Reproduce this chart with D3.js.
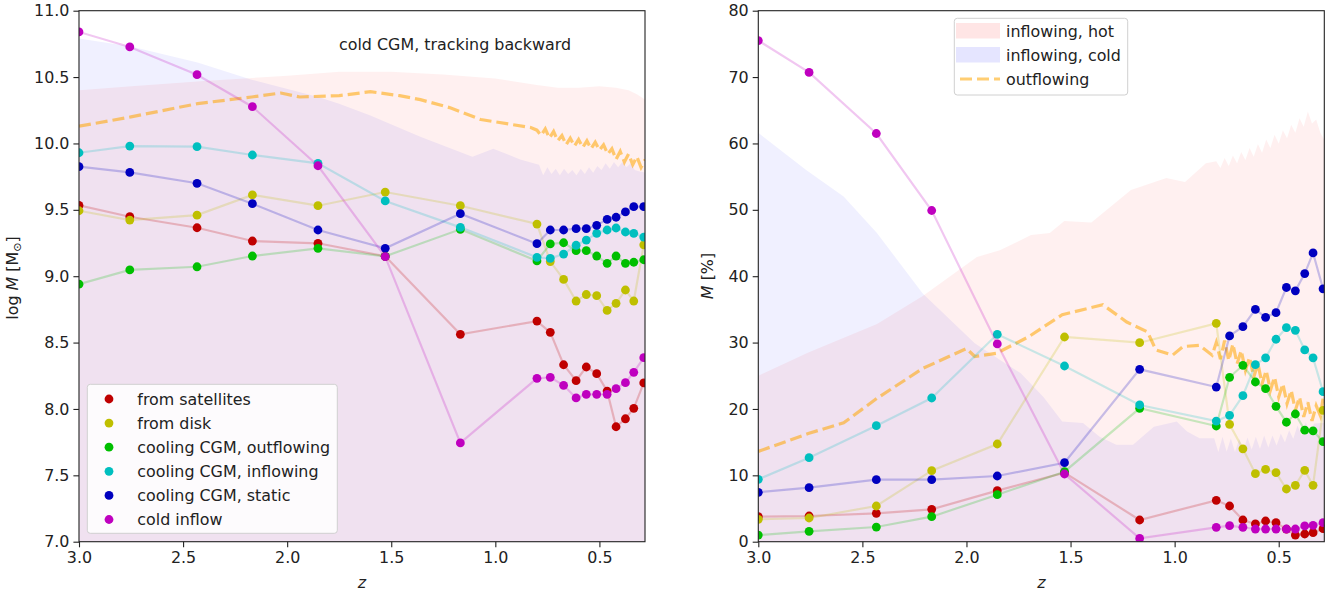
<!DOCTYPE html>
<html><head><meta charset="utf-8">
<script src="https://cdn.jsdelivr.net/npm/d3@7/dist/d3.min.js"></script>
<style>body{margin:0;background:#fff}</style>
</head><body>
<script>
// snapshot redshifts
const zSnap = [3.0, 2.756, 2.433, 2.167, 1.852, 1.529, 1.168, 0.800, 0.736, 0.672, 0.612, 0.563, 0.513, 0.463, 0.420, 0.375, 0.335, 0.287];

// left panel: log M
const satM    = [9.533, 9.448, 9.365, 9.265, 9.248, 9.15, 8.562, 8.662, 8.577, 8.333, 8.213, 8.316, 8.266, 8.135, 7.866, 7.926, 8.005, 8.196];
const diskM   = [9.493, 9.423, 9.46, 9.612, 9.531, 9.634, 9.531, 9.393, 9.11, 8.976, 8.813, 8.862, 8.853, 8.742, 8.796, 8.896, 8.813, 9.236];
const coolOutM = [8.94, 9.047, 9.071, 9.152, 9.21, 9.15, 9.353, 9.115, 9.243, 9.252, 9.192, 9.192, 9.152, 9.097, 9.152, 9.097, 9.105, 9.124];
const coolInM = [9.93, 9.98, 9.976, 9.913, 9.85, 9.567, 9.368, 9.142, 9.135, 9.167, 9.233, 9.272, 9.323, 9.348, 9.363, 9.333, 9.323, 9.295];
const coolStM = [9.825, 9.782, 9.70, 9.546, 9.348, 9.21, 9.471, 9.245, 9.348, 9.348, 9.358, 9.358, 9.383, 9.428, 9.444, 9.484, 9.524, 9.524];
const coldInM = [10.84, 10.727, 10.518, 10.277, 9.832, 9.147, 7.744, 8.231, 8.238, 8.178, 8.083, 8.11, 8.11, 8.11, 8.153, 8.198, 8.276, 8.386];

// right panel: percent
const satP    = [3.77, 3.87, 4.27, 4.88, 7.69, 10.4, 3.27, 6.23, 5.38, 3.27, 2.67, 3.12, 2.87, 1.9, 1.0, 1.16, 1.36, 1.96];
const diskP   = [3.37, 3.57, 5.38, 10.7, 14.72, 30.84, 29.98, 32.9, 17.69, 14.0, 10.25, 10.9, 10.4, 7.94, 8.5, 10.75, 8.5, 19.8];
const coolOutP = [1.0, 1.56, 2.21, 3.77, 7.08, 10.55, 20.1, 17.43, 24.77, 26.58, 24.06, 23.05, 20.4, 18.0, 19.24, 16.8, 16.7, 15.07];
const coolInP = [9.4, 12.66, 17.48, 21.65, 31.25, 26.47, 20.6, 18.18, 19.04, 22.0, 26.67, 27.7, 30.5, 32.25, 31.85, 28.9, 27.7, 22.6];
const coolStP = [7.44, 8.14, 9.34, 9.34, 9.9, 11.9, 25.97, 23.3, 31.0, 32.4, 35.0, 33.8, 34.5, 38.3, 37.8, 40.4, 43.5, 38.1];
const coldInP = [75.5, 70.7, 61.5, 49.9, 29.79, 10.2, 0.5, 2.17, 2.41, 2.17, 1.91, 1.91, 1.91, 1.91, 1.91, 2.37, 2.47, 2.87];

const seriesNames = ["from satellites", "from disk", "cooling CGM, outflowing", "cooling CGM, inflowing", "cooling CGM, static", "cold inflow"];
const seriesColors = ["#bf0000", "#bfbf00", "#00bf00", "#00bfbf", "#0000bf", "#bf00bf"];

// background bands [z, value]
const hotL = [[3.0,10.40],[2.75,10.43],[2.4,10.47],[2.0,10.51],[1.75,10.54],[1.5,10.54],[1.25,10.52],[1.0,10.49],[0.8,10.44],[0.7,10.42],[0.6,10.42],[0.5,10.43],[0.42,10.42],[0.36,10.40],[0.32,10.37],[0.28,10.33]];
const coldL = [[3.0,10.79],[2.75,10.73],[2.43,10.61],[2.17,10.48],[1.85,10.35],[1.75,10.30],[1.6,10.21],[1.36,10.05],[1.11,9.90],[1.01,9.96],[0.88,9.88],[0.79,9.84],[0.77,9.76],[0.75,9.82],[0.73,9.77],[0.71,9.81],[0.69,9.76],[0.67,9.81],[0.65,9.77],[0.63,9.80],[0.61,9.76],[0.59,9.81],[0.57,9.77],[0.55,9.82],[0.53,9.78],[0.51,9.83],[0.49,9.80],[0.47,9.85],[0.45,9.81],[0.43,9.86],[0.41,9.82],[0.39,9.86],[0.37,9.82],[0.35,9.85],[0.33,9.80],[0.31,9.79],[0.28,9.78]];
const outL = [[3.0,10.13],[2.75,10.2],[2.43,10.3],[2.17,10.35],[2.03,10.38],[1.94,10.35],[1.75,10.36],[1.6,10.39],[1.46,10.36],[1.36,10.33],[1.22,10.27],[1.07,10.18],[0.93,10.145],[0.83,10.12],[0.80,10.10],[0.78,10.06],[0.76,10.11],[0.74,10.04],[0.72,10.09],[0.70,10.02],[0.68,10.06],[0.66,9.99],[0.64,10.04],[0.62,9.98],[0.60,10.03],[0.58,9.97],[0.56,10.02],[0.54,9.96],[0.52,10.01],[0.50,9.95],[0.48,9.99],[0.46,9.92],[0.44,9.96],[0.42,9.88],[0.40,9.94],[0.38,9.86],[0.36,9.92],[0.34,9.84],[0.32,9.90],[0.30,9.82],[0.28,9.88]];

const hotR = [[3.0,25.0],[2.76,28.5],[2.43,32.8],[2.21,37.0],[1.95,42.9],[1.84,43.9],[1.69,46.2],[1.6,46.5],[1.53,48.3],[1.40,48.1],[1.21,53.0],[1.04,54.8],[0.95,54.2],[0.85,57.0],[0.80,57.3],[0.78,56.3],[0.76,57.8],[0.74,56.6],[0.72,58.2],[0.70,57.0],[0.68,58.7],[0.66,57.5],[0.64,59.3],[0.62,58.0],[0.60,59.9],[0.58,58.6],[0.56,60.6],[0.54,59.3],[0.52,61.3],[0.50,60.0],[0.48,62.0],[0.46,60.8],[0.44,62.8],[0.42,61.6],[0.40,63.8],[0.38,62.5],[0.36,64.8],[0.34,63.0],[0.32,63.6],[0.30,61.6],[0.28,60.5]];
const coldR = [[3.0,61.6],[2.77,56.0],[2.59,52.0],[2.43,46.5],[2.21,37.4],[1.96,29.9],[1.84,27.4],[1.74,25.4],[1.63,21.8],[1.54,18.1],[1.44,17.9],[1.36,15.8],[1.28,14.6],[1.20,14.6],[1.10,17.3],[0.99,18.1],[0.94,16.6],[0.88,15.6],[0.81,15.6],[0.79,13.5],[0.77,15.8],[0.75,13.6],[0.73,15.6],[0.71,13.5],[0.69,15.5],[0.67,13.8],[0.65,15.7],[0.63,13.9],[0.61,15.8],[0.59,14.0],[0.57,16.0],[0.55,14.2],[0.53,16.0],[0.51,14.5],[0.49,16.3],[0.47,15.0],[0.45,16.8],[0.43,15.5],[0.41,17.5],[0.39,16.0],[0.37,18.0],[0.35,16.5],[0.33,17.8],[0.30,17.9],[0.28,17.9]];
const outR = [[3.0,13.6],[2.76,16.3],[2.59,17.9],[2.43,21.6],[2.21,26.1],[2.0,29.1],[1.96,27.9],[1.855,28.4],[1.70,30.9],[1.54,34.2],[1.345,35.7],[1.23,33.1],[1.13,31.6],[1.09,28.9],[1.01,28.1],[0.96,29.4],[0.88,29.6],[0.82,28.1],[0.80,30.0],[0.78,27.5],[0.76,30.3],[0.74,27.3],[0.72,29.8],[0.70,26.8],[0.68,28.8],[0.66,25.8],[0.64,27.8],[0.62,24.8],[0.60,26.8],[0.58,23.8],[0.56,25.8],[0.54,22.8],[0.52,24.8],[0.50,21.8],[0.48,23.8],[0.46,20.8],[0.44,22.8],[0.42,19.8],[0.40,21.8],[0.38,18.8],[0.36,21.0],[0.34,18.2],[0.32,20.5],[0.30,19.0],[0.28,23.0]];

const xTicks = [3.0, 2.5, 2.0, 1.5, 1.0, 0.5];
const yTicksL = [7.0, 7.5, 8.0, 8.5, 9.0, 9.5, 10.0, 10.5, 11.0];
const yTicksR = [0, 10, 20, 30, 40, 50, 60, 70, 80];

const width = 1341, height = 594, fs = 15.9;
const plotTop = 10.7, plotBottom = 541.7;
const svg = d3.select("body").append("svg").attr("width", width).attr("height", height)
  .style("font-family", "DejaVu Sans").style("font-size", fs + "px");

function panel(id, left, right, yDomain, yTicks, yFmt, values, hot, cold, out) {
  const x = d3.scaleLinear().domain([3.0, 0.281]).range([left, right]);
  const y = d3.scaleLinear().domain(yDomain).range([plotBottom, plotTop]);
  svg.append("clipPath").attr("id", id).append("rect")
    .attr("x", left).attr("y", plotTop).attr("width", right - left).attr("height", plotBottom - plotTop);
  const g = svg.append("g").attr("clip-path", `url(#${id})`);

  const area = d3.area().x(d => x(d[0])).y0(plotBottom + 5).y1(d => y(d[1]));
  g.append("path").attr("d", area(cold)).attr("fill", "#0000ff").attr("fill-opacity", 0.06);
  g.append("path").attr("d", area(hot)).attr("fill", "#ff0000").attr("fill-opacity", 0.06);
  g.append("path").attr("d", d3.line().x(d => x(d[0])).y(d => y(d[1]))(out))
    .attr("fill", "none").attr("stroke", "#ffa500").attr("stroke-opacity", 0.55)
    .attr("stroke-width", 3.2).attr("stroke-dasharray", "12,5");

  values.forEach((vals, i) => {
    const pts = zSnap.map((z, j) => [z, vals[j]]);
    g.append("path").attr("d", d3.line().x(d => x(d[0])).y(d => y(d[1]))(pts))
      .attr("fill", "none").attr("stroke", seriesColors[i]).attr("stroke-opacity", 0.22).attr("stroke-width", 2.2);
    g.selectAll(null).data(pts).enter().append("circle")
      .attr("cx", d => x(d[0])).attr("cy", d => y(d[1])).attr("r", 4.4).attr("fill", seriesColors[i]);
  });

  svg.append("rect").attr("x", left).attr("y", plotTop).attr("width", right - left).attr("height", plotBottom - plotTop)
    .attr("fill", "none").attr("stroke", "#222").attr("stroke-width", 1.1);

  svg.append("g").attr("transform", `translate(0,${plotBottom})`)
    .call(d3.axisBottom(x).tickValues(xTicks).tickFormat(d3.format(".1f")).tickSize(5.6).tickPadding(4))
    .call(a => a.select(".domain").remove())
    .call(a => a.selectAll("text").attr("font-size", fs).attr("font-family", "DejaVu Sans").attr("fill", "#222"))
    .call(a => a.selectAll("line").attr("stroke", "#222").attr("stroke-width", 1.1));
  svg.append("g").attr("transform", `translate(${left},0)`)
    .call(d3.axisLeft(y).tickValues(yTicks).tickFormat(d3.format(yFmt)).tickSize(5.6).tickPadding(4))
    .call(a => a.select(".domain").remove())
    .call(a => a.selectAll("text").attr("font-size", fs).attr("font-family", "DejaVu Sans").attr("fill", "#222"))
    .call(a => a.selectAll("line").attr("stroke", "#222").attr("stroke-width", 1.1));

  svg.append("text").attr("x", (left + right) / 2).attr("y", 588).attr("text-anchor", "middle")
    .attr("font-style", "italic").attr("fill", "#222").text("z");
}

panel("clipL", 79, 645, [7, 11], yTicksL, ".1f", [satM, diskM, coolOutM, coolInM, coolStM, coldInM], hotL, coldL, outL);
panel("clipR", 758.3, 1324.3, [0, 80], yTicksR, "d", [satP, diskP, coolOutP, coolInP, coolStP, coldInP], hotR, coldR, outR);

// y labels
const ylL = svg.append("text").attr("transform", "translate(18,278) rotate(-90)").attr("text-anchor", "middle").attr("fill", "#222");
ylL.append("tspan").text("log ");
ylL.append("tspan").attr("font-style", "italic").text("M");
ylL.append("tspan").text("  [M");
ylL.append("tspan").attr("font-size", fs * 0.7).attr("dy", 3).text("⊙");
ylL.append("tspan").attr("dy", -3).text("]");
const ylR = svg.append("text").attr("transform", "translate(713,276) rotate(-90)").attr("text-anchor", "middle").attr("fill", "#222");
ylR.append("tspan").attr("font-style", "italic").text("M");
ylR.append("tspan").text(" [%]");

svg.append("text").attr("x", 339).attr("y", 50).attr("fill", "#222").text("cold CGM, tracking backward");

// left legend
const lg = svg.append("g");
lg.append("rect").attr("x", 87.3).attr("y", 384.3).attr("width", 250).attr("height", 149).attr("rx", 3)
  .attr("fill", "#fff").attr("fill-opacity", 0.85).attr("stroke", "#d0d0d0");
seriesNames.forEach((n, i) => {
  const yy = 399 + i * 24.1;
  lg.append("circle").attr("cx", 109).attr("cy", yy).attr("r", 4.4).attr("fill", seriesColors[i]);
  lg.append("text").attr("x", 137.3).attr("y", yy).attr("dy", "0.35em").attr("fill", "#222").text(n);
});

// right legend
const bandNames = ["inflowing, hot", "inflowing, cold", "outflowing"];
const rg = svg.append("g");
rg.append("rect").attr("x", 954.3).attr("y", 18.3).attr("width", 173.4).attr("height", 76.7).attr("rx", 3)
  .attr("fill", "#fff").attr("fill-opacity", 0.85).attr("stroke", "#d0d0d0");
rg.append("rect").attr("x", 956).attr("y", 23).attr("width", 44).attr("height", 15.5).attr("fill", "#ff0000").attr("fill-opacity", 0.1);
rg.append("rect").attr("x", 956).attr("y", 47).attr("width", 44).attr("height", 15.5).attr("fill", "#0000ff").attr("fill-opacity", 0.1);
rg.append("line").attr("x1", 960).attr("x2", 1000).attr("y1", 79).attr("y2", 79)
  .attr("stroke", "#ffa500").attr("stroke-opacity", 0.55).attr("stroke-width", 3.2).attr("stroke-dasharray", "12,5");
bandNames.forEach((n, i) => {
  rg.append("text").attr("x", 1006).attr("y", 31.7 + i * 24.1).attr("dy", "0.35em").attr("fill", "#222").text(n);
});
</script></body></html>
